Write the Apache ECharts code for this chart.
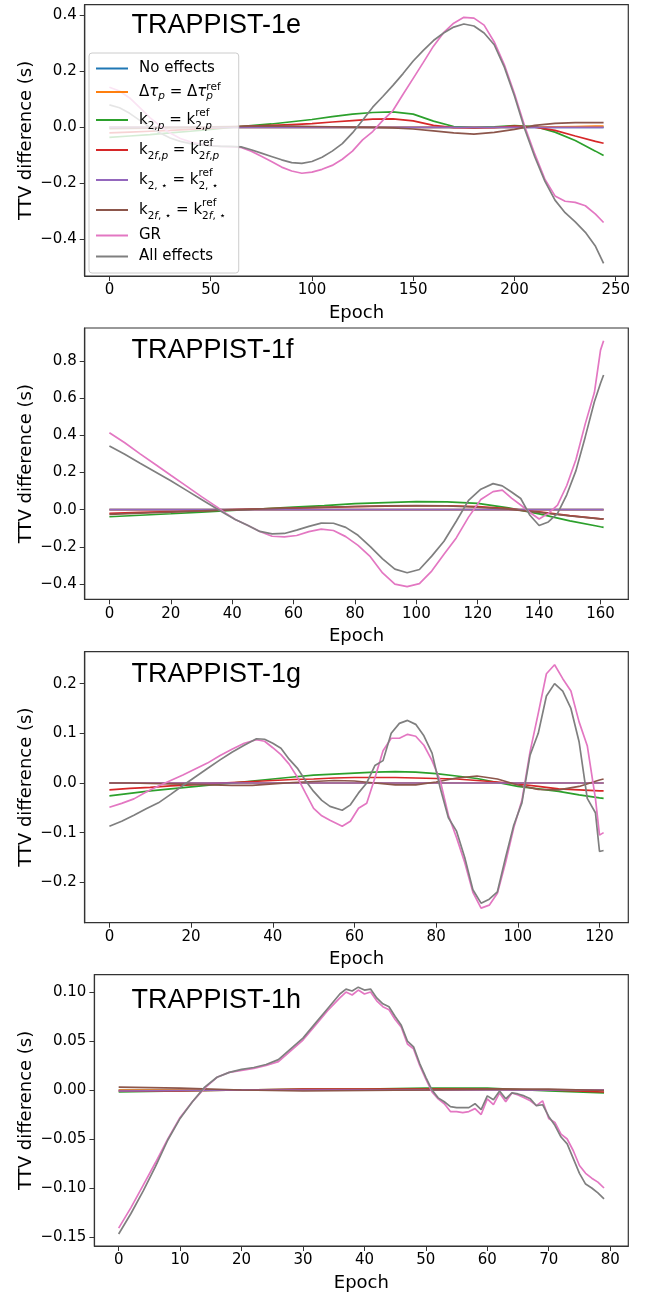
<!DOCTYPE html>
<html>
<head>
<meta charset="utf-8">
<script src="https://cdn.jsdelivr.net/npm/echarts@6/dist/echarts.min.js"></script>
<style>
  html, body { margin: 0; padding: 0; background: #fff; }
  #chart { width: 649px; height: 1295px; }
</style>
</head>
<body>
<div id="chart"></div>
<script>
// ---------------- data ----------------
const seriesNames = ['No effects', 'Δτ_p = Δτ_p^ref', 'k_2,p = k_2,p^ref', 'k_2f,p = k_2f,p^ref',
  'k_2,⋆ = k_2,⋆^ref', 'k_2f,⋆ = k_2f,⋆^ref', 'GR', 'All effects'];
const colors = ['#1f77b4', '#ff7f0e', '#2ca02c', '#d62728', '#9467bd', '#8c564b', '#e377c2', '#7f7f7f'];

// TRAPPIST-1e
const eXTicks = [0, 50, 100, 150, 200, 250];
const eYTicks = [-0.4, -0.2, 0, 0.2, 0.4];
const eFineEpochs = [0,5,10,15,20,25,30,35,40,45,50,55,60,65,70,75,80,85,90,95,100,105,110,115,120,125,130,135,140,145,150,155,160,165,170,175,180,185,190,195,200,205,210,215,220,225,230,235,240,244];
const eGR = [0.143,0.13,0.105,0.07,0.035,0.005,-0.02,-0.04,-0.052,-0.06,-0.065,-0.068,-0.07,-0.072,-0.085,-0.103,-0.122,-0.142,-0.156,-0.164,-0.16,-0.15,-0.136,-0.114,-0.085,-0.045,-0.015,0.025,0.06,0.118,0.175,0.232,0.29,0.338,0.372,0.393,0.39,0.365,0.305,0.223,0.12,0.005,-0.095,-0.185,-0.245,-0.264,-0.268,-0.28,-0.31,-0.34];
const eAll = [0.08,0.07,0.05,0.025,0.0,-0.02,-0.038,-0.05,-0.058,-0.063,-0.066,-0.068,-0.068,-0.07,-0.08,-0.092,-0.104,-0.116,-0.126,-0.129,-0.122,-0.107,-0.085,-0.058,-0.02,0.025,0.072,0.11,0.15,0.192,0.237,0.275,0.31,0.337,0.358,0.369,0.362,0.337,0.295,0.215,0.112,-0.005,-0.105,-0.192,-0.26,-0.305,-0.338,-0.375,-0.425,-0.486];
const eSmoothEpochs = [0,10,20,30,40,50,60,70,80,90,100,110,120,130,140,150,160,170,180,190,200,210,220,230,240,244];
const eNoEffects = [0,0,0,0,0,0,0,0,0,0,0,0,0,0,0,0,0,0,0,0,0,0,0,0,0,0];
const eDtau = [0,0,0,0,0,0,0,0,0,0,0,0,0,0,0,0,0,0,0,0,0,0.001,0.002,0.003,0.004,0.004];
const eK2p = [-0.036,-0.031,-0.026,-0.02,-0.014,-0.007,0.0,0.006,0.012,0.02,0.028,0.038,0.047,0.053,0.055,0.047,0.022,0.003,-0.001,0.002,0.006,0.003,-0.017,-0.047,-0.085,-0.101];
const eK2fp = [-0.02,-0.017,-0.014,-0.011,-0.007,-0.003,0.001,0.004,0.007,0.01,0.013,0.019,0.024,0.029,0.03,0.023,0.007,-0.001,-0.002,-0.001,0.004,0.001,-0.011,-0.031,-0.05,-0.057];
const eK2s = [0,0,0,0,0,0,0,0,0,0,0,0,0,0,0,0,0,0,0,0,0,0,0,0,0,0];
const eK2fs = [-0.005,-0.004,-0.003,-0.001,0.0,0.002,0.003,0.004,0.004,0.004,0.003,0.002,0.001,0.0,-0.002,-0.006,-0.013,-0.02,-0.024,-0.018,-0.007,0.007,0.014,0.017,0.017,0.017];

// TRAPPIST-1f
const fXTicks = [0, 20, 40, 60, 80, 100, 120, 140, 160];
const fYTicks = [-0.4, -0.2, 0, 0.2, 0.4, 0.6, 0.8];
const fFineEpochs = [0,5,10,15,20,25,30,35,38,41,45,49,53,57,61,65,69,73,77,81,85,89,93,97,101,105,109,113,117,121,125,128,131,134,137,140,143,146,149,152,155,158,160,161];
const fGR = [0.414,0.36,0.30,0.243,0.185,0.128,0.07,0.015,-0.02,-0.053,-0.084,-0.117,-0.143,-0.146,-0.139,-0.118,-0.105,-0.112,-0.145,-0.192,-0.253,-0.34,-0.4,-0.414,-0.398,-0.33,-0.24,-0.152,-0.04,0.055,0.097,0.105,0.062,0.025,-0.015,-0.05,-0.02,0.025,0.13,0.27,0.46,0.63,0.858,0.909];
const fAll = [0.342,0.298,0.25,0.203,0.155,0.105,0.055,0.005,-0.025,-0.053,-0.084,-0.117,-0.13,-0.128,-0.11,-0.09,-0.072,-0.073,-0.095,-0.138,-0.199,-0.265,-0.32,-0.339,-0.322,-0.25,-0.17,-0.062,0.05,0.11,0.14,0.128,0.095,0.06,-0.03,-0.085,-0.066,-0.02,0.08,0.21,0.39,0.58,0.68,0.724];
const fSmoothEpochs = [0,10,20,30,40,50,60,70,80,90,100,110,120,130,140,150,160,161];
const fNoEffects = [0,0,0,0,0,0,0,0,0,0,0,0,0,0,0,0,0,0];
const fDtau = [0,0,0,0,0,0,0,0,0,0,0,0,0,0,0,0,0,0];
const fK2p = [-0.038,-0.03,-0.022,-0.013,-0.004,0.005,0.014,0.022,0.032,0.038,0.043,0.042,0.034,0.01,-0.023,-0.06,-0.092,-0.095];
const fK2fp = [-0.02,-0.015,-0.01,-0.005,0.0,0.004,0.008,0.012,0.016,0.019,0.021,0.021,0.016,0.006,-0.012,-0.032,-0.049,-0.05];
const fK2s = [0,0,0,0,0,0,0,0,0,0,0,0,0,0,0,0,0,0];
const fK2fs = [-0.025,-0.019,-0.013,-0.007,-0.001,0.004,0.009,0.013,0.017,0.02,0.022,0.02,0.013,0.003,-0.015,-0.033,-0.049,-0.05];

// TRAPPIST-1g
const gXTicks = [0, 20, 40, 60, 80, 100, 120];
const gYTicks = [-0.2, -0.1, 0, 0.1, 0.2];
const gFineEpochs = [0,3,6,9,12,15,18,21,24,27,30,33,36,38,40,42,44,46,48,50,52,54,57,59,61,63,65,67,69,71,73,75,77,79,81,83,85,87,89,91,93,95,97,99,101,103,105,107,109,111,113,115,117,119,120,121];
const gGR = [-0.049,-0.041,-0.032,-0.018,-0.006,0.005,0.016,0.028,0.04,0.055,0.068,0.08,0.087,0.084,0.071,0.057,0.038,0.012,-0.02,-0.051,-0.066,-0.075,-0.087,-0.077,-0.051,-0.041,0.01,0.065,0.09,0.09,0.098,0.094,0.076,0.045,0.005,-0.065,-0.11,-0.16,-0.22,-0.252,-0.246,-0.222,-0.16,-0.09,-0.035,0.063,0.14,0.22,0.238,0.21,0.185,0.123,0.075,-0.031,-0.105,-0.1];
const gAll = [-0.087,-0.077,-0.065,-0.052,-0.04,-0.023,-0.005,0.012,0.029,0.046,0.062,0.076,0.089,0.088,0.08,0.07,0.048,0.03,0.005,-0.017,-0.035,-0.047,-0.055,-0.044,-0.02,0.0,0.035,0.045,0.1,0.12,0.126,0.118,0.095,0.06,-0.01,-0.07,-0.097,-0.15,-0.215,-0.242,-0.234,-0.219,-0.15,-0.085,-0.04,0.056,0.1,0.175,0.2,0.185,0.15,0.083,-0.031,-0.06,-0.138,-0.136];
const gSmoothEpochs = [0,5,10,15,20,25,30,35,40,45,50,55,60,65,70,75,80,85,90,95,100,105,110,115,120,121];
const gNoEffects = [0,0,0,0,0,0,0,0,0,0,0,0,0,0,0,0,0,0,0,0,0,0,0,0,0,0];
const gDtau = [0,0,0,0,0,0,0,0,0,0,0,0,0,0,0,0,0,0,0,0,0,0,0,0,0,0];
const gK2p = [-0.026,-0.021,-0.016,-0.012,-0.008,-0.004,0.0,0.004,0.008,0.012,0.016,0.018,0.02,0.022,0.023,0.022,0.019,0.014,0.009,0.001,-0.007,-0.012,-0.017,-0.024,-0.03,-0.031];
const gK2fp = [-0.014,-0.011,-0.009,-0.006,-0.004,-0.001,0.001,0.003,0.005,0.007,0.008,0.01,0.011,0.011,0.011,0.01,0.009,0.008,0.005,0.002,-0.002,-0.007,-0.012,-0.014,-0.016,-0.016];
const gK2s = [0,0,0,0,0,0,0,0,0,0,0,0,0,0,0,0,0,0,0,0,0,0,0,0,0,0];
const gK2fs = [0.0,0.0,-0.001,-0.002,-0.003,-0.004,-0.005,-0.005,-0.002,0.001,0.003,0.005,0.004,0.0,-0.004,-0.004,0.002,0.01,0.014,0.008,-0.004,-0.013,-0.014,-0.007,0.006,0.008];

// TRAPPIST-1h
const hXTicks = [0, 10, 20, 30, 40, 50, 60, 70, 80];
const hYTicks = [-0.15, -0.1, -0.05, 0, 0.05, 0.1];
const hFineEpochs = [0,2,4,6,8,10,12,14,16,18,20,22,24,26,28,30,32,34,36,37,38,39,40,41,42,43,44,45,46,47,48,49,50,51,52,53,54,55,56,57,58,59,60,61,62,63,64,65,66,67,68,69,70,71,72,73,74,75,76,77,78,79];
const hGR = [-0.141,-0.12,-0.097,-0.074,-0.05,-0.028,-0.012,0.002,0.013,0.018,0.02,0.022,0.025,0.029,0.04,0.051,0.066,0.081,0.094,0.1,0.097,0.102,0.098,0.1,0.091,0.085,0.082,0.072,0.064,0.047,0.042,0.025,0.011,-0.002,-0.009,-0.014,-0.022,-0.022,-0.023,-0.022,-0.019,-0.025,-0.009,-0.015,-0.003,-0.012,-0.003,-0.005,-0.008,-0.011,-0.016,-0.011,-0.029,-0.033,-0.045,-0.05,-0.062,-0.077,-0.085,-0.09,-0.094,-0.1];
const hAll = [-0.147,-0.126,-0.103,-0.078,-0.051,-0.029,-0.012,0.003,0.013,0.018,0.021,0.023,0.026,0.031,0.042,0.053,0.068,0.083,0.098,0.103,0.101,0.105,0.102,0.103,0.094,0.088,0.085,0.075,0.066,0.05,0.044,0.027,0.013,0.0,-0.008,-0.012,-0.017,-0.018,-0.018,-0.018,-0.014,-0.02,-0.006,-0.01,-0.001,-0.009,-0.003,-0.004,-0.006,-0.009,-0.016,-0.015,-0.027,-0.036,-0.048,-0.055,-0.07,-0.085,-0.096,-0.1,-0.105,-0.111];
const hSmoothEpochs = [0,10,20,30,40,50,60,70,79];
const hNoEffects = [0,0,0,0,0,0,0,0,0];
const hDtau = [0,0,0,0,0,0,0,0,0];
const hK2p = [-0.002,-0.001,0.0,0.001,0.001,0.002,0.002,-0.001,-0.003];
const hK2fp = [-0.001,-0.001,0.0,0.001,0.001,0.001,0.001,0.0,-0.002];
const hK2s = [-0.001,-0.0005,0,0,0,0,0,0,0];
const hK2fs = [0.003,0.002,0.0,-0.001,-0.0005,0.0,0.001,0.001,-0.0005];

// ---------------- layout ----------------
const FONT = '"DejaVu Sans", sans-serif';
const panels = [
  {title: 'TRAPPIST-1e', titleY: 25.5, grid: {left: 84.7, top: 4.7, width: 543.6, height: 271.3},
   xr: [-12.2, 256.2], yr: [-0.531, 0.438], xTicks: eXTicks, yTicks: eYTicks, dec: 1, yGap: 49.5,
   fine: eFineEpochs, smooth: eSmoothEpochs, lines: [eNoEffects, eDtau, eK2p, eK2fp, eK2s, eK2fs, eGR, eAll]},
  {title: 'TRAPPIST-1f', titleY: 350.5, grid: {left: 84.7, top: 328, width: 543.6, height: 271.3},
   xr: [-8.05, 169.05], yr: [-0.482, 0.977], xTicks: fXTicks, yTicks: fYTicks, dec: 1, yGap: 49.5,
   fine: fFineEpochs, smooth: fSmoothEpochs, lines: [fNoEffects, fDtau, fK2p, fK2fp, fK2s, fK2fs, fGR, fAll]},
  {title: 'TRAPPIST-1g', titleY: 675, grid: {left: 84.7, top: 651.7, width: 543.6, height: 271},
   xr: [-6.05, 127.05], yr: [-0.2813, 0.2643], xTicks: gXTicks, yTicks: gYTicks, dec: 1, yGap: 49.5,
   fine: gFineEpochs, smooth: gSmoothEpochs, lines: [gNoEffects, gDtau, gK2p, gK2fp, gK2s, gK2fs, gGR, gAll]},
  {title: 'TRAPPIST-1h', titleY: 1001, grid: {left: 94.4, top: 974.7, width: 533.9, height: 271.3},
   xr: [-3.95, 82.95], yr: [-0.1592, 0.1177], xTicks: hXTicks, yTicks: hYTicks, dec: 2, yGap: 59.5,
   fine: hFineEpochs, smooth: hSmoothEpochs, lines: [hNoEffects, hDtau, hK2p, hK2fp, hK2s, hK2fs, hGR, hAll]}
];

function fmt(v, d) {
  return (v < -1e-9 ? '\u2212' : '') + Math.abs(v).toFixed(d);
}
function pts(xs, ys) {
  return xs.map((x, i) => [x, ys[i]]);
}

// legend labels with sub/superscripts (ref stacked over the subscript)
const legendLabels = {
  'No effects': '{t|No effects}',
  'Δτ_p = Δτ_p^ref': '{d|Δ}{di|τ}{dsub|p}{d| = Δ}{di|τ}{dsup|ref}{dsub|p}',
  'k_2,p = k_2,p^ref': '{k|k}{ks|2,}{ksi|p}{k| = k}{kup|ref}{ks|2,}{ksi|p}',
  'k_2f,p = k_2f,p^ref': '{k|k}{ks|2}{ksi|f}{ks|,}{ksi|p}{k| = k}{kup|ref}{ks|2}{ksi|f}{ks|,}{ksi|p}',
  'k_2,⋆ = k_2,⋆^ref': '{k|k}{ks|2, ⋆}{k| = k}{kup|ref}{ks|2, ⋆}',
  'k_2f,⋆ = k_2f,⋆^ref': '{k|k}{ks|2}{ksi|f}{ks|, ⋆}{k| = k}{kup|ref}{ks|2}{ksi|f}{ks|, ⋆}',
  'GR': '{t|GR}',
  'All effects': '{t|All effects}'
};
const base = {fontFamily: FONT, color: '#000'};
const legendRich = {
  t: {...base, fontSize: 15, lineHeight: 17},
  d: {...base, fontSize: 15, lineHeight: 20},
  di: {...base, fontSize: 15, lineHeight: 20, fontStyle: 'italic'},
  dsub: {...base, fontSize: 10.5, lineHeight: 11, verticalAlign: 'bottom', fontStyle: 'italic'},
  dsup: {...base, fontSize: 10.5, lineHeight: 11, verticalAlign: 'top', width: 0},
  k: {...base, fontSize: 15, lineHeight: 24},
  ks: {...base, fontSize: 10.5, lineHeight: 15, verticalAlign: 'bottom'},
  ksi: {...base, fontSize: 10.5, lineHeight: 15, verticalAlign: 'bottom', fontStyle: 'italic'},
  kup: {...base, fontSize: 10.5, lineHeight: 15, verticalAlign: 'top', width: 0}
};

const grids = [], xAxes = [], yAxes = [], series = [], graphics = [];
panels.forEach((p, i) => {
  grids.push({...p.grid, show: true, borderColor: '#333', borderWidth: 1.2, backgroundColor: '#fff'});
  xAxes.push({
    type: 'value', gridIndex: i, min: p.xr[0], max: p.xr[1],
    splitLine: {show: false},
    axisLine: {show: true, onZero: false, lineStyle: {color: '#333', width: 1.2}},
    axisTick: {show: true, length: 5, customValues: p.xTicks, lineStyle: {color: '#333'}},
    axisLabel: {customValues: p.xTicks, fontFamily: FONT, fontSize: 15, color: '#000', margin: 7,
      formatter: v => String(Math.round(v))},
    name: 'Epoch', nameLocation: 'middle', nameGap: 28, nameMoveOverlap: false,
    nameTextStyle: {fontFamily: FONT, fontSize: 18, color: '#000'}
  });
  yAxes.push({
    type: 'value', gridIndex: i, min: p.yr[0], max: p.yr[1],
    splitLine: {show: false},
    axisLine: {show: true, onZero: false, lineStyle: {color: '#333', width: 1.2}},
    axisTick: {show: true, length: 5, customValues: p.yTicks, lineStyle: {color: '#333'}},
    axisLabel: {customValues: p.yTicks, fontFamily: FONT, fontSize: 15, color: '#000', margin: 8,
      formatter: v => fmt(v, p.dec)},
    name: 'TTV difference (s)', nameLocation: 'middle', nameGap: p.yGap, nameMoveOverlap: false,
    nameTextStyle: {fontFamily: FONT, fontSize: 18, color: '#000'}
  });
  p.lines.forEach((ys, k) => {
    const xs = k >= 6 ? p.fine : p.smooth;
    series.push({
      type: 'line', name: seriesNames[k], xAxisIndex: i, yAxisIndex: i,
      data: pts(xs, ys), symbol: 'none', showSymbol: false,
      lineStyle: {width: 1.7, color: colors[k]}, itemStyle: {color: colors[k]},
      z: 2 + k * 0.01
    });
  });
  graphics.push({
    type: 'text', x: 131.5, y: p.titleY, z: 10,
    style: {text: p.title, fontFamily: '"Liberation Sans", Arial, sans-serif', fontSize: 27,
      fill: '#000', align: 'left', verticalAlign: 'middle'}
  });
});

const chart = echarts.init(document.getElementById('chart'));
chart.setOption({
  animation: false,
  backgroundColor: '#fff',
  grid: grids,
  xAxis: xAxes,
  yAxis: yAxes,
  series: series,
  graphic: graphics,
  legend: {
    data: seriesNames, orient: 'vertical', left: 89, top: 53,
    itemGap: 6, itemWidth: 32, itemHeight: 10,
    padding: [8, 13, 9, 6],
    backgroundColor: 'rgba(255,255,255,0.8)', borderColor: '#cccccc', borderWidth: 1, borderRadius: 3,
    selectedMode: false,
    itemStyle: {opacity: 0},
    textStyle: {fontFamily: FONT, fontSize: 15, color: '#000', padding: [0, 0, 0, 6], rich: legendRich},
    formatter: n => legendLabels[n]
  }
});
</script>
</body>
</html>
